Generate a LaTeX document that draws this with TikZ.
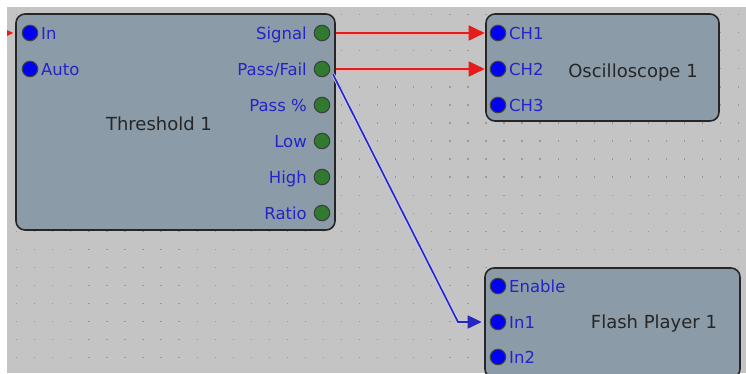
\documentclass[tikz,border=0pt]{standalone}
\usepackage{fontspec}
\setmainfont{DejaVu Sans}
\usetikzlibrary{arrows.meta}

\definecolor{canvasgray}{HTML}{C4C4C4}
\definecolor{griddot}{HTML}{9A9A9A}
\definecolor{blockfill}{HTML}{8B9BA8}
\definecolor{portblue}{HTML}{0000F2}
\definecolor{portgreen}{HTML}{2F7A2F}
\definecolor{labelblue}{HTML}{2424C8}
\definecolor{wirered}{HTML}{E41C1C}
\definecolor{wireblue}{HTML}{2626C0}

\tikzset{
  block/.style={draw=black!85, line width=1.6pt, fill=blockfill, rounded corners=9pt, inner sep=0pt},
  inport/.style={circle, fill=portblue, draw=black!75, line width=1.1pt, minimum size=15.5pt, inner sep=0pt},
  outport/.style={circle, fill=portgreen, draw=black!75, line width=1.1pt, minimum size=15.5pt, inner sep=0pt},
  portlabel/.style={text=labelblue, font=\fontsize{16.5}{18}\selectfont, inner sep=0pt},
  blocklabel/.style={text=black!85, font=\fontsize{18}{20}\selectfont, inner sep=0pt},
  redwire/.style={draw=wirered, line width=1.8pt, preaction={draw=wirered!35, line width=4.5pt, -},
    -{Triangle[length=16pt, width=15pt]}},
  bluewire/.style={draw=wireblue, line width=1.6pt, preaction={draw=wireblue!25, line width=3.5pt, -},
    -{Triangle[length=14pt, width=13pt]}}
}

\begin{document}
\begin{tikzpicture}[x=1pt, y=-1pt]
  \useasboundingbox (0,0) rectangle (746,373);
  \clip (0,0) rectangle (746,373);
  \fill[canvasgray] (0,0) rectangle (746,373);
  % dotted grid
  \foreach \i in {0,...,40}
    \foreach \j in {0,...,20}
      \fill[griddot] ({16+18.05*\i}, {14+18.05*\j}) rectangle +(1.3,1.3);

  % blocks
  \node[block, minimum width=319pt, minimum height=216pt] (th) at (175.5,122) {};
  \node[block, minimum width=233pt, minimum height=107pt] (osc) at (602.5,67.5) {};
  \node[block, minimum width=255pt, minimum height=110pt] (fp) at (612.5,323) {};

  % Threshold 1
  \node[inport] (thIn) at (30,33) {};
  \node[inport] (thAuto) at (30,69) {};
  \node[portlabel, anchor=base west] (thInLbl) at (41,39) {In};
  \node[portlabel, anchor=base west] (thAutoLbl) at (41,75) {Auto};
  \foreach \name/\txt/\y in {thSignal/Signal/33, thPF/Pass\slash Fail/69, thPct/Pass \%/105,
                              thLow/Low/141, thHigh/High/177, thRatio/Ratio/213} {
    \node[outport] (\name) at (322,\y) {};
    \node[portlabel, anchor=base east] (\name Lbl) at (307,\y+6) {\txt};
  }
  \node[blocklabel, anchor=base] (thLbl) at (159,130) {Threshold 1};

  % Oscilloscope 1
  \foreach \name/\txt/\y in {oscA/CH1/33, oscB/CH2/69, oscC/CH3/105} {
    \node[inport] (\name) at (498,\y) {};
    \node[portlabel, anchor=base west] (\name Lbl) at (509,\y+6) {\txt};
  }
  \node[blocklabel, anchor=base] (oscLbl) at (633,77) {Oscilloscope 1};

  % Flash Player 1
  \foreach \name/\txt/\y in {fpEnable/Enable/286, fpIn1/In1/322, fpIn2/In2/357} {
    \node[inport] (\name) at (498,\y) {};
    \node[portlabel, anchor=base west] (\name Lbl) at (509,\y+6) {\txt};
  }
  \node[blocklabel, anchor=base] (fpLbl) at (654,328) {Flash Player 1};

  % connections
  \coordinate (feed) at (-10,33);
  \coordinate (pfBend) at (458,322);
  \begin{scope}
    \draw[redwire, shorten >=2pt] (feed) -- (thIn -| th.west);
    \draw[redwire, shorten <=6pt, shorten >=5pt] (thSignal.east) -- (oscA.west);
    \draw[redwire, shorten <=6pt, shorten >=5pt] (thPF.east) -- (oscB.west);
    \draw[bluewire, shorten <=6pt, shorten >=8pt] (thPF.east) -- (pfBend) -- (fpIn1.west);
  \end{scope}

  % screen edge
  \fill[white] (0,0) rectangle (746,7);
  \fill[white] (0,0) rectangle (7,373);
\end{tikzpicture}
\end{document}
